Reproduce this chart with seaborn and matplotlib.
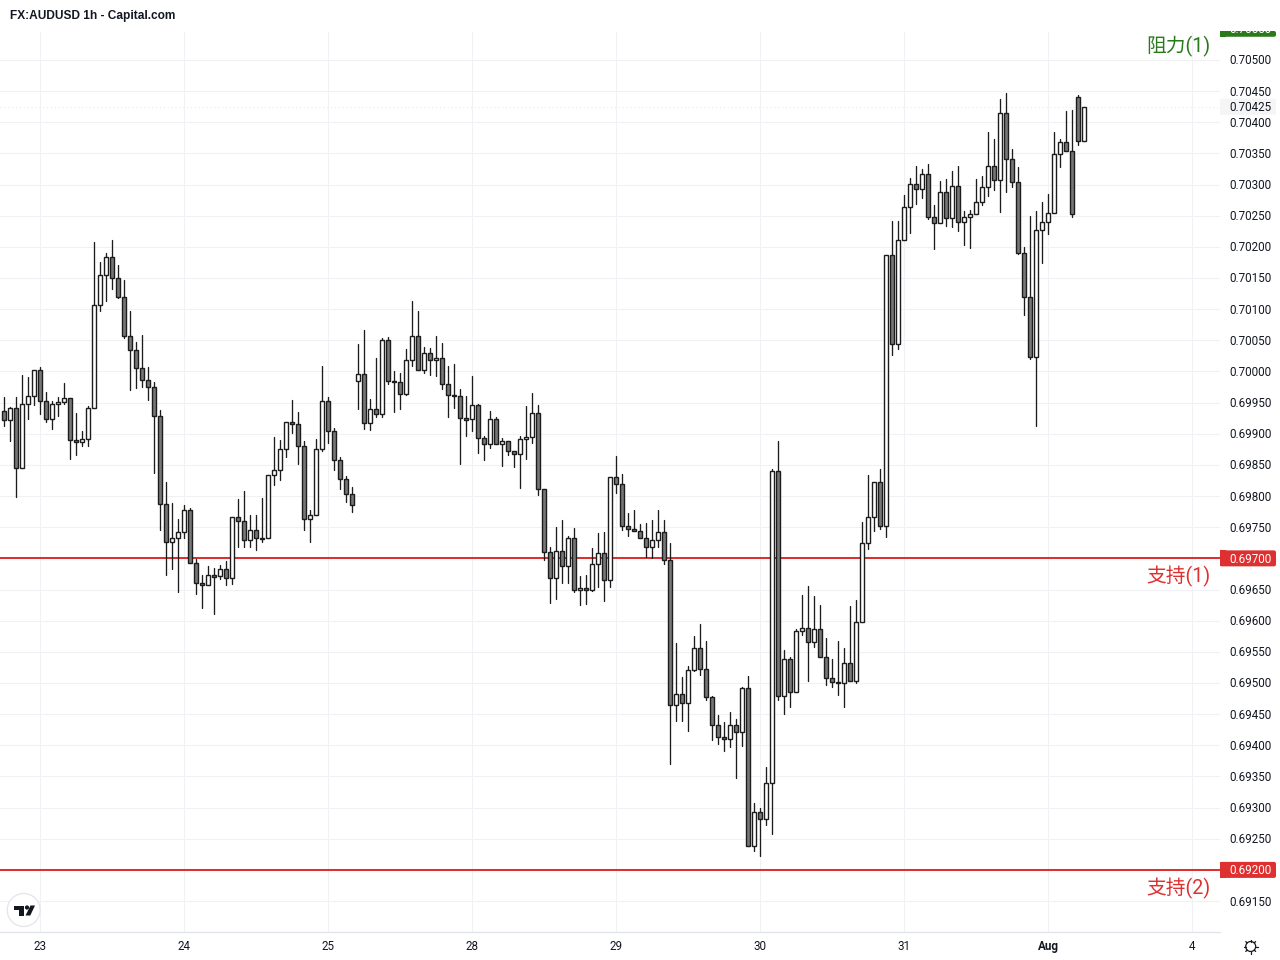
import matplotlib
matplotlib.use("Agg")
import numpy as np
import pandas as pd
import matplotlib.pyplot as plt
import seaborn as sns
from matplotlib.patches import Circle, Polygon, FancyBboxPatch
from matplotlib.transforms import Affine2D, Bbox
from matplotlib.ticker import FormatStrFormatter

# 1h candles, in 0.00001 steps above BASE_PRICE
BASE_PRICE = 0.69
opens = [
    937, 922, 941, 845, 948, 961, 1002, 953, 924, 948,
    951, 957, 890, 887, 892, 941, 1107, 1155, 1184, 1150,
    1120, 1057, 1034, 1006, 986, 975, 929, 787, 726, 733,
    742, 778, 693, 661, 657, 673, 672, 683, 669, 766,
    760, 730, 746, 733, 733, 834, 842, 876, 919, 916,
    880, 763, 770, 876, 953, 904, 858, 827, 803, 985,
    996, 917, 940, 932, 1051, 985, 983, 964, 1018, 1057,
    1002, 1030, 1018, 1022, 980, 962, 961, 925, 924, 946,
    893, 884, 924, 884, 888, 872, 868, 892, 895, 933,
    811, 710, 669, 712, 688, 733, 649, 653, 649, 691,
    709, 665, 831, 819, 752, 747, 744, 733, 718, 730,
    742, 697, 465, 482, 468, 521, 556, 522, 477, 433,
    413, 410, 433, 421, 492, 238, 293, 282, 340, 840,
    479, 538, 486, 583, 588, 566, 587, 542, 508, 502,
    500, 532, 503, 598, 725, 766, 823, 752, 1187, 1044,
    1211, 1264, 1301, 1293, 1317, 1248, 1238, 1288, 1246, 1298,
    1240, 1248, 1253, 1272, 1296, 1330, 1307, 1415, 1341, 1304,
    1190, 1120, 1023, 1227, 1240, 1254, 1349, 1368, 1354, 1440,
    1370,
]
highs = [
    959, 943, 959, 994, 991, 1002, 1007, 967, 953, 959,
    982, 957, 933, 904, 945, 1208, 1176, 1190, 1211, 1171,
    1147, 1097, 1047, 1059, 1007, 983, 938, 823, 789, 763,
    786, 781, 699, 673, 688, 685, 689, 696, 766, 795,
    808, 770, 770, 797, 834, 895, 890, 919, 954, 935,
    888, 778, 892, 1009, 959, 909, 863, 832, 815, 1044,
    1067, 956, 1022, 1054, 1055, 1001, 998, 1036, 1113, 1097,
    1039, 1038, 1057, 1046, 1009, 1012, 972, 961, 993, 948,
    896, 937, 927, 893, 888, 872, 896, 945, 965, 946,
    811, 718, 750, 762, 736, 749, 672, 673, 717, 741,
    742, 831, 864, 835, 773, 778, 755, 757, 762, 778,
    762, 725, 564, 510, 527, 575, 595, 567, 479, 449,
    437, 453, 442, 494, 511, 307, 299, 365, 843, 888,
    553, 542, 587, 641, 656, 640, 625, 572, 538, 567,
    556, 624, 633, 758, 834, 823, 843, 1187, 1242, 1242,
    1283, 1311, 1330, 1325, 1333, 1267, 1306, 1309, 1322, 1330,
    1258, 1259, 1309, 1314, 1384, 1373, 1437, 1447, 1357, 1328,
    1200, 1250, 1258, 1272, 1285, 1384, 1373, 1418, 1420, 1444,
    1425,
]
lows = [
    913, 888, 798, 845, 924, 946, 932, 919, 908, 929,
    948, 860, 866, 880, 880, 941, 1097, 1113, 1132, 1118,
    1054, 970, 973, 975, 954, 837, 746, 673, 683, 646,
    733, 693, 643, 620, 657, 611, 667, 657, 659, 718,
    718, 718, 713, 726, 733, 818, 826, 863, 901, 851,
    746, 726, 770, 872, 885, 842, 811, 790, 774, 940,
    908, 906, 927, 927, 980, 935, 940, 962, 1009, 1002,
    998, 994, 993, 972, 927, 941, 851, 896, 904, 869,
    858, 877, 884, 848, 866, 847, 813, 860, 885, 802,
    697, 628, 635, 661, 661, 646, 625, 627, 648, 654,
    632, 654, 805, 746, 736, 744, 733, 702, 700, 718,
    691, 370, 439, 439, 423, 519, 513, 473, 409, 402,
    391, 397, 348, 399, 238, 230, 222, 272, 258, 473,
    450, 462, 486, 577, 503, 558, 542, 497, 494, 481,
    462, 503, 500, 598, 715, 744, 747, 734, 1026, 1036,
    1211, 1222, 1269, 1278, 1245, 1197, 1238, 1234, 1232, 1225,
    1203, 1198, 1253, 1267, 1282, 1291, 1256, 1288, 1296, 1188,
    1091, 1020, 913, 1174, 1221, 1254, 1328, 1354, 1248, 1363,
    1370,
]
closes = [
    922, 941, 845, 948, 961, 1002, 953, 924, 948, 951,
    957, 890, 887, 892, 941, 1107, 1155, 1184, 1150, 1120,
    1057, 1034, 1006, 986, 975, 929, 787, 726, 733, 742,
    778, 693, 661, 657, 673, 670, 683, 669, 766, 760,
    730, 746, 733, 731, 834, 842, 876, 919, 916, 880,
    763, 770, 876, 953, 904, 858, 827, 803, 786, 996,
    917, 940, 932, 1051, 985, 983, 964, 1018, 1057, 1002,
    1030, 1018, 1022, 980, 962, 961, 925, 922, 946, 893,
    884, 924, 884, 888, 872, 868, 892, 895, 933, 811,
    710, 669, 712, 688, 733, 649, 653, 649, 691, 709,
    665, 831, 819, 752, 747, 744, 733, 718, 730, 742,
    697, 465, 482, 468, 521, 556, 522, 477, 433, 413,
    410, 433, 421, 492, 238, 293, 282, 340, 840, 479,
    538, 486, 583, 588, 566, 587, 542, 508, 502, 500,
    532, 503, 598, 725, 766, 823, 752, 1187, 1044, 1211,
    1264, 1301, 1293, 1317, 1248, 1238, 1288, 1246, 1298, 1240,
    1248, 1253, 1272, 1296, 1330, 1307, 1415, 1341, 1304, 1190,
    1120, 1023, 1227, 1240, 1254, 1349, 1368, 1354, 1253, 1370,
    1425,
]

day_bars = [6, 30, 54, 78, 102, 126, 150, 174, 198]
day_labels = ['23', '24', '25', '28', '29', '30', '31', 'Aug', '4']

price_ticks = [0.6915 + 0.0005 * i for i in range(28)]
support_levels = [0.6970, 0.6920]
support_labels = ['支持(1)', '支持(2)']
resistance_level = 0.7055
resistance_label = '阻力(1)'
last_price = 0.70425

INK = '#1c1c1c'
DOWN_FILL = '#777777'
RED = '#de3030'
GREEN = '#2a7a1c'
GRID = '#f0f1f4'
TEXT = '#131722'


def main():
    sns.set_theme(style='white')
    plt.rcParams['font.family'] = ['Roboto', 'Noto Sans CJK SC', 'DejaVu Sans']

    o = BASE_PRICE + np.array(opens) / 1e5
    h = BASE_PRICE + np.array(highs) / 1e5
    l = BASE_PRICE + np.array(lows) / 1e5
    c = BASE_PRICE + np.array(closes) / 1e5
    bars = np.arange(len(o))
    up = c >= o

    fig = plt.figure(figsize=(12.8, 9.6), dpi=100, facecolor='white')
    ax = fig.add_axes([0, 28 / 960, 1220 / 1280, 900 / 960])
    px = Affine2D().scale(1, -1).translate(0, 960)

    # wicks, one vertical segment per bar
    wicks = pd.DataFrame({'bar': np.r_[bars, bars], 'price': np.r_[l, h]})
    sns.lineplot(data=wicks, x='bar', y='price', units='bar', estimator=None, sort=False,
                 color=INK, linewidth=0.95, legend=False, ax=ax, zorder=2)

    sns.barplot(x=bars[up], y=(c - o)[up], bottom=o[up], orient='x', native_scale=True,
                width=0.68, color='white', saturation=1, edgecolor=INK, linewidth=1.0,
                errorbar=None, zorder=3, ax=ax)
    sns.barplot(x=bars[~up], y=(o - c)[~up], bottom=c[~up], orient='x', native_scale=True,
                width=0.68, color=DOWN_FILL, saturation=1, edgecolor=INK, linewidth=1.0,
                errorbar=None, zorder=3, ax=ax)

    for level in support_levels:
        ax.axhline(level, color=RED, linewidth=1.45, zorder=1.5)
    ax.axhline(last_price, color='#e6e6ea', linewidth=0.7, linestyle=(0, (1, 3)), zorder=1)

    ax.set_xlim(-4 / 6, 1216 / 6)
    ax.set_ylim(BASE_PRICE + 100.3 / 1e5, BASE_PRICE + 1544.8 / 1e5)
    ax.set_xlabel('')
    ax.set_ylabel('')

    ax.set_xticks(day_bars, day_labels)
    ax.set_yticks(price_ticks)
    ax.yaxis.set_major_formatter(FormatStrFormatter('%.5f'))
    ax.yaxis.tick_right()
    ax.tick_params(axis='y', length=0, pad=6.6, labelsize=8.4, labelcolor=TEXT)
    ax.tick_params(axis='x', length=0, pad=5.5, labelsize=8.4, labelcolor=TEXT)
    for lab in ax.get_xticklabels():
        if lab.get_text() == 'Aug':
            lab.set_fontweight('bold')
    for lab in ax.get_yticklabels():
        lab.set_transform(lab.get_transform() + Affine2D().translate(0, 0.5))
    ax.grid(True, color=GRID, linewidth=0.75, zorder=0)
    ax.set_axisbelow(True)
    sns.despine(ax=ax, left=True, right=True, top=True)
    ax.spines['bottom'].set_color('#e0e3eb')
    ax.spines['bottom'].set_linewidth(0.9)

    # price scale tags
    def tag(y, colour, label, text_colour='white', top=None):
        y0 = y - 8 if top is None else top
        fig.add_artist(FancyBboxPatch((1220, y0), 56, y + 8 - y0, transform=px,
                                      boxstyle='round,pad=0,rounding_size=2', facecolor=colour,
                                      edgecolor='none', zorder=5))
        fig.add_artist(plt.Rectangle((1220, y0), 6, y + 8 - y0, transform=px, facecolor=colour,
                                     edgecolor='none', zorder=5))
        t = fig.text(1250, y + 1, label, ha='center', va='center', fontsize=8.4,
                     color=text_colour, zorder=6, transform=px)
        t.set_clip_box(Bbox([[1220, 0], [1276, 960 - y0]]))
        t.set_clip_on(True)

    def price_y(price):
        return 994.5 - (price - BASE_PRICE) * 1e5 / 1.605

    tag(price_y(last_price), '#f5f5f6', f'{last_price:.5f}', TEXT)
    for level in support_levels:
        tag(price_y(level), RED, f'{level:.5f}')
    tag(price_y(resistance_level), GREEN, f'{resistance_level:.5f}', top=31)

    for level, name in zip(support_levels, support_labels):
        fig.text(1211, price_y(level) + 18.5, name, ha='right', va='center',
                 fontsize=14.2, color=RED, zorder=6, transform=px)
    fig.text(1211, 46.5, resistance_label, ha='right', va='center',
             fontsize=14.2, color=GREEN, zorder=6, transform=px)

    fig.text(10, 16.5, 'FX:AUDUSD 1h - Capital.com', ha='left', va='center',
             fontsize=8.6, fontweight='bold', color=TEXT, family=['Liberation Sans'], transform=px)

    # TradingView badge
    fig.add_artist(Circle((23.7, 910), 16.5, transform=px, facecolor='white',
                          edgecolor='#e6e7ec', linewidth=1.0, zorder=5))
    fig.add_artist(Polygon([(13.5, 905.5), (24.3, 905.5), (24.3, 915.5), (19.2, 915.5),
                            (19.2, 910), (13.5, 910)], transform=px, facecolor='#131722',
                           edgecolor='none', zorder=6))
    fig.add_artist(Circle((27, 907.5), 2.1, transform=px, facecolor='#131722',
                          edgecolor='none', zorder=6))
    fig.add_artist(Polygon([(30.5, 905.5), (35, 905.5), (30.3, 915.5), (25.5, 915.5)],
                           transform=px, facecolor='#131722', edgecolor='none', zorder=6))

    # settings gear
    gx, gy = 1250.7, 946.5
    fig.add_artist(Circle((gx, gy), 5, transform=px, facecolor='white',
                          edgecolor=TEXT, linewidth=0.9, zorder=6))
    for ang in np.arange(0, 2 * np.pi, np.pi / 4):
        fig.add_artist(plt.Line2D([gx + 5 * np.cos(ang), gx + 7 * np.cos(ang)],
                                  [gy + 5 * np.sin(ang), gy + 7 * np.sin(ang)],
                                  transform=px, color=TEXT, linewidth=0.9, zorder=6))

    fig.savefig('out.png', dpi=100, facecolor='white')
    plt.close(fig)


if __name__ == "__main__":
    main()
